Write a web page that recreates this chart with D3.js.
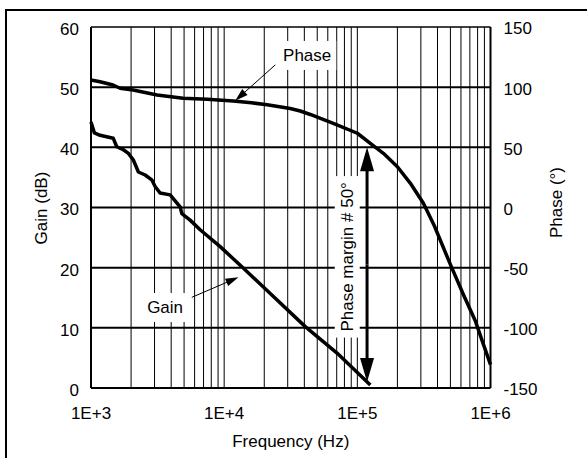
<!DOCTYPE html>
<html><head><meta charset="utf-8">
<script src="https://cdn.jsdelivr.net/npm/d3@7"></script>
<style>body{margin:0;background:#fff} text{font-family:"Liberation Sans",Arial,sans-serif;font-size:17px;fill:#000}</style>
</head><body><svg id="c" width="587" height="458"></svg>
<script>
// ---- data ----
const gainFreq = [1000,1060,1170,1470,1560,1750,1910,2080,2270,2550,2860,3030,3300,3930,4670,4810,5550,6600,9330,13960,22180,40640,70380,125200];
const gainDb   = [44.2,42.4,42.0,41.5,40.1,39.6,39.0,37.9,35.9,35.4,34.6,33.5,32.4,32.1,30.1,29.0,27.9,26.3,23.5,19.9,15.7,10.2,5.8,0.5];
const phaseFreq = [1000,1169,1464,1652,2069,3134,4916,7450,11690,16000,21050,31340,37270,44330,65990,100000,125200,156900,199900,250300,313400,379200,500300,626600,771400,886100,1000000];
const phaseDeg  = [106,104.5,101.8,99.1,97.6,93.5,90.7,89.9,88.5,87.0,85.4,82.3,80.2,77.3,70,61.7,53.3,45,33.9,20.1,3.5,-15.4,-47.5,-72.5,-94.6,-114,-130.6];
const xTicks = [1e3,1e4,1e5,1e6];
const xTickLabels = ["1E+3","1E+4","1E+5","1E+6"];
const gainTicks = [0,10,20,30,40,50,60];
const phaseTicks = [-150,-100,-50,0,50,100,150];
const phaseMargin = 50;

// ---- scales ----
const svg = d3.select("#c");
const x = d3.scaleLog().domain([1e3,1e6]).range([91,490.5]);
const yG = d3.scaleLinear().domain([0,60]).range([388,27]);
const yP = d3.scaleLinear().domain([-150,150]).range([388,27]);
const [x0,x1] = x.range(), [yb,yt] = yG.range();

// outer frame (cut off at right/bottom)
svg.append("rect").attr("x",6).attr("y",10).attr("width",620).attr("height",500)
  .attr("fill","none").attr("stroke","#000").attr("stroke-width",2);

// vertical grid
const minor = [];
[1e3,1e4,1e5].forEach(d=>{for(let k=2;k<=9;k++) minor.push(d*k);});
svg.append("g").selectAll("line").data(minor.concat([1e4,1e5])).join("line")
  .attr("x1",d=>x(d)).attr("x2",d=>x(d)).attr("y1",yt).attr("y2",yb)
  .attr("stroke","#000").attr("stroke-width",1);
// horizontal grid
svg.append("g").selectAll("line").data(gainTicks.slice(1,-1)).join("line")
  .attr("x1",x0).attr("x2",x1).attr("y1",d=>yG(d)).attr("y2",d=>yG(d))
  .attr("stroke","#000").attr("stroke-width",2);

// labels with white background
function bgText(cx, cy, str, rot, padX, padY){
  const g = svg.append("g").attr("transform",`translate(${cx},${cy}) rotate(${rot})`);
  const r = g.append("rect").attr("fill","#fff");
  const t = g.append("text").attr("text-anchor","middle").attr("dy","0.35em").text(str);
  const b = t.node().getBBox();
  r.attr("x",b.x-padX).attr("y",b.y-padY).attr("width",b.width+2*padX).attr("height",b.height+2*padY);
}
bgText(x(42000), yG(55.35), "Phase", 0, 5, 5);
bgText(x(3600), yG(13.45), "Gain", 0, 5, 5);
bgText(x(84800)-1, yG(21.8), "Phase margin # 50°", -90, 6, 3);

// curves
const lineG = d3.line().x(d=>x(d[0])).y(d=>yG(d[1]));
const lineP = d3.line().x(d=>x(d[0])).y(d=>yP(d[1]));
svg.append("path").attr("d",lineG(gainFreq.map((f,i)=>[f,gainDb[i]])))
  .attr("fill","none").attr("stroke","#000").attr("stroke-width",3.5).attr("stroke-linejoin","round");
svg.append("path").attr("d",lineP(phaseFreq.map((f,i)=>[f,phaseDeg[i]])))
  .attr("fill","none").attr("stroke","#000").attr("stroke-width",3.5).attr("stroke-linejoin","round");

// arrows
function arrow(p0, p1, w, len, hw){
  const dx=p1[0]-p0[0], dy=p1[1]-p0[1], L=Math.hypot(dx,dy), ux=dx/L, uy=dy/L;
  const bx=p1[0]-ux*len, by=p1[1]-uy*len;
  svg.append("line").attr("x1",p0[0]).attr("y1",p0[1]).attr("x2",bx+ux*2).attr("y2",by+uy*2)
    .attr("stroke","#000").attr("stroke-width",w);
  svg.append("path").attr("d",`M${p1[0]},${p1[1]}L${bx-uy*hw},${by+ux*hw}L${bx+uy*hw},${by-ux*hw}Z`).attr("fill","#000");
}
arrow([x(24200),yG(53.7)],[x(12100),yG(47.75)],1,13,4);
arrow([x(5715),yG(15.07)],[x(12810),yG(18.4)],1,13,4);
const fm = 118300;
const mid = (yP(phaseMargin)+yG(1.0))/2;
arrow([x(fm),mid],[x(fm),yP(phaseMargin)],3,24,7);
arrow([x(fm),mid],[x(fm),yG(1.0)],3,24,7);

// plot frame
svg.append("line").attr("x1",x0).attr("x2",x1).attr("y1",yt).attr("y2",yt).attr("stroke","#000").attr("stroke-width",1.5);
svg.append("line").attr("x1",x0).attr("x2",x1).attr("y1",yb).attr("y2",yb).attr("stroke","#000").attr("stroke-width",2);
svg.append("line").attr("x1",x0).attr("x2",x0).attr("y1",yt).attr("y2",yb).attr("stroke","#000").attr("stroke-width",2);
svg.append("line").attr("x1",x1).attr("x2",x1).attr("y1",yt).attr("y2",yb).attr("stroke","#000").attr("stroke-width",2);

// tick labels
svg.append("g").selectAll("text").data(gainTicks).join("text")
  .attr("x",x0-12).attr("y",d=>yG(d)+2).attr("dy","0.35em").attr("text-anchor","end").text(d=>d);
svg.append("g").selectAll("text").data(phaseTicks).join("text")
  .attr("x",x1+13).attr("y",d=>yP(d)+1.5).attr("dy","0.35em").attr("text-anchor","start").text(d=>d);
svg.append("g").selectAll("text").data(xTicks).join("text")
  .attr("x",d=>x(d)).attr("y",yb+25.5).attr("dy","0.35em").attr("text-anchor","middle").text((d,i)=>xTickLabels[i]);

// axis titles
svg.append("text").attr("x",(x0+x1)/2).attr("y",yb+53).attr("dy","0.35em").attr("text-anchor","middle").text("Frequency (Hz)");
svg.append("text").attr("transform",`translate(41,208) rotate(-90)`).attr("dy","0.35em").attr("text-anchor","middle").text("Gain (dB)");
svg.append("text").attr("transform",`translate(556,202.5) rotate(-90)`).attr("dy","0.35em").attr("text-anchor","middle").text("Phase (°)");
</script></body></html>
